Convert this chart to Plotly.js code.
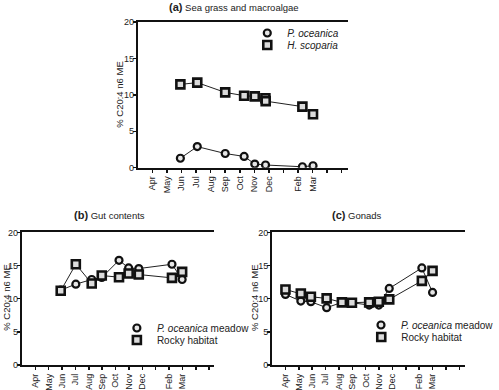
<!DOCTYPE html>
<html>
<head>
<meta charset="utf-8">
<script src="https://cdn.plot.ly/plotly-3.0.1.min.js"></script>
<style>html,body{margin:0;padding:0;background:#fff}#chart{width:499px;height:390px}</style>
</head>
<body>
<div id="chart"></div>
<script>
// Month tick labels (index 0 = Apr)
const tickMonths = ["Apr","May","Jun","Jul","Aug","Sep","Oct","Nov","Dec","","Feb","Mar","",""];
const tickPos = [0,1,2,3,4,5,6,7,8,9,10,11,12,13];

// Panel (a) Sea grass and macroalgae
const aPocX = [1.92, 3.08, 5.0, 6.3, 7.03, 7.77, 10.3, 11.03];
const aPocY = [1.3, 2.9, 1.95, 1.55, 0.5, 0.37, 0.13, 0.27];
const aHscX = [1.92, 3.08, 5.0, 6.3, 7.03, 7.76, 7.78, 10.3, 11.03];
const aHscY = [11.45, 11.7, 10.35, 9.9, 9.8, 9.55, 9.15, 8.4, 7.35];

// Panel (b) Gut contents
const bX = [1.9, 3.03, 4.22, 4.97, 6.26, 6.98, 7.74, 10.22, 10.98];
const bMeadowY = [11.3, 12.2, 12.9, 13.2, 15.8, 14.65, 14.55, 15.2, 12.9];
const bRockyY  = [11.2, 15.2, 12.3, 13.5, 13.25, 13.8, 13.65, 13.15, 14.05];

// Panel (c) Gonads
const cX = [0.0, 1.15, 1.9, 3.08, 4.22, 4.97, 6.26, 6.98, 7.76, 10.2, 11.0];
const cMeadowY = [10.65, 9.65, 9.55, 8.65, 9.45, 9.4, 9.05, 9.05, 11.55, 14.65, 10.95];
const cRockyY  = [11.4, 10.8, 10.3, 10.05, 9.45, 9.4, 9.45, 9.55, 9.9, 12.7, 14.2];

const FONT = "Liberation Sans, Arial, sans-serif";
const circ = {symbol:"circle", size:7, color:"#e6e6e6", line:{color:"#111", width:2.2}};
const sq = {symbol:"square", size:8, color:"#dcdcdc", line:{color:"#111", width:2.6}};
const ln = {color:"#222", width:1};

function lineTr(x, y, xa, ya) {
  return {x:x, y:y, type:"scatter", mode:"lines", line:ln, xaxis:xa, yaxis:ya,
    showlegend:false, hoverinfo:"skip"};
}
function markTr(x, y, name, marker, xa, ya, lg) {
  return {x:x, y:y, name:name, type:"scatter", mode:"markers",
    marker:marker, xaxis:xa, yaxis:ya, legend:lg};
}

const data = [
  lineTr(aPocX, aPocY, "x", "y"),
  lineTr(aHscX, aHscY, "x", "y"),
  lineTr(bX, bMeadowY, "x2", "y2"),
  lineTr(bX, bRockyY, "x2", "y2"),
  lineTr(cX, cMeadowY, "x3", "y3"),
  lineTr(cX, cRockyY, "x3", "y3"),
  markTr(aPocX, aPocY, "<i>P. oceanica</i>", circ, "x", "y", "legend"),
  markTr(aHscX, aHscY, "<i>H. scoparia</i>", sq, "x", "y", "legend2"),
  markTr(bX, bMeadowY, "<i>P. oceanica</i> meadow", circ, "x2", "y2", "legend3"),
  markTr(bX, bRockyY, "Rocky habitat", sq, "x2", "y2", "legend4"),
  markTr(cX, cMeadowY, "<i>P. oceanica</i> meadow", circ, "x3", "y3", "legend5"),
  markTr(cX, cRockyY, "Rocky habitat", sq, "x3", "y3", "legend6")
];

function xax(domain, anchor) {
  return {domain:domain, anchor:anchor, range:[-1, 13.4], tickvals:tickPos, ticktext:tickMonths,
    tickangle:-90, ticks:"outside", ticklen:3, tickwidth:1.5, tickcolor:"#111",
    showline:true, linewidth:2, linecolor:"#111", mirror:true, showgrid:false, zeroline:false,
    tickfont:{family:FONT, size:9, color:"#222"}, fixedrange:true};
}
function yax(domain, anchor) {
  return {domain:domain, anchor:anchor, range:[0, 20], tickvals:[0,5,10,15,20],
    ticks:"outside", ticklen:3, tickwidth:1.5, tickcolor:"#111",
    showline:true, linewidth:2, linecolor:"#111", showgrid:false, zeroline:false,
    tickfont:{family:FONT, size:9, color:"#222"}, ticklabelstandoff:-3};
}
function leg(left, cy) {
  return {x:left/499, y:1-cy/390, xanchor:"left", yanchor:"middle", bgcolor:"rgba(0,0,0,0)",
    font:{family:FONT, size:10, color:"#222"}, itemwidth:30};
}
function ytitle(cx, cy) {
  return {text:"% C20:4 n6 ME", x:cx/499, y:1-cy/390, xref:"paper", yref:"paper",
    xanchor:"center", yanchor:"middle",
    textangle:-90, showarrow:false, font:{family:FONT, size:9.5, color:"#222"}};
}
function ptitle(letter, rest, cx, cy) {
  return {text:"<b><span style=\"font-size:11px\">" + letter + "</span></b> " + rest,
    x:cx/499, y:1-cy/390, xref:"paper", yref:"paper", xanchor:"center", yanchor:"middle",
    showarrow:false, font:{family:FONT, size:9.5, color:"#222"}};
}

const layout = {
  width:499, height:390, margin:{l:0, r:0, t:0, b:0},
  paper_bgcolor:"#fff", plot_bgcolor:"#fff", showlegend:true,
  xaxis: xax([0.286, 0.721], "y"),
  yaxis: yax([0.570, 0.943], "x"),
  xaxis2: xax([0.0455, 0.445], "y2"),
  yaxis2: yax([0.064, 0.404], "x2"),
  xaxis3: xax([0.5645, 0.964], "y3"),
  yaxis3: yax([0.064, 0.404], "x3"),
  legend: leg(256, 33),
  legend2: leg(256, 45),
  legend3: leg(121, 328),
  legend4: leg(121, 340),
  legend5: leg(374, 325),
  legend6: leg(374, 337),
  annotations: [
    ptitle("(a)", "Sea grass and macroalgae", 242, 7),
    ptitle("(b)", "Gut contents", 113, 215),
    ptitle("(c)", "Gonads", 370, 215),
    ytitle(123, 94),
    ytitle(6, 297),
    ytitle(263, 298)
  ]
};

Plotly.newPlot("chart", data, layout, {staticPlot:true, displayModeBar:false});
</script>
</body>
</html>
